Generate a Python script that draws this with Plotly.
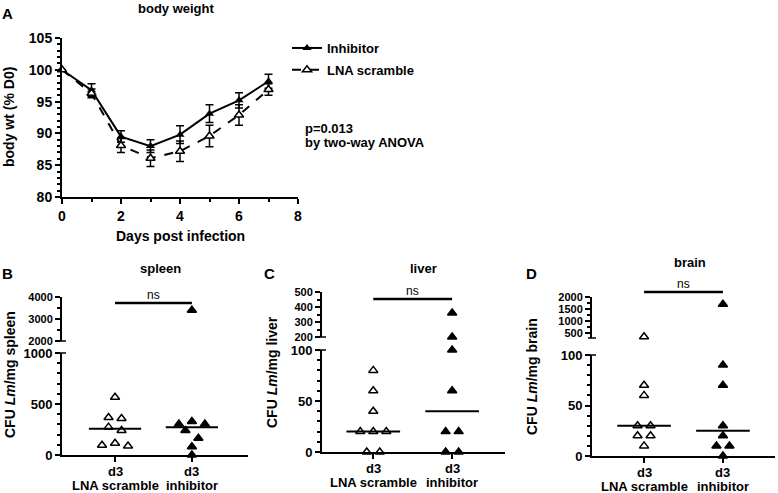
import numpy as np
import plotly.graph_objects as go

# ---------------- data ----------------
days = [0, 1, 2, 3, 4, 5, 6, 7]
inhibitor_mean = [100, 96.8, 89.5, 88.0, 89.8, 93.1, 95.2, 98.2]
inhibitor_sem = [None, 1.0, 0.9, 1.0, 1.4, 1.4, 1.2, 1.1]
lna_mean = [100, 96.3, 88.1, 86.1, 87.2, 89.6, 92.9, 96.9]
lna_sem = [None, 0.7, 1.1, 1.3, 1.6, 1.7, 1.6, 0.9]

groups = ["LNA scramble", "inhibitor"]
spleen_lna = [566, 368, 358, 273, 240, 115, 95, 89]
spleen_inh = [3400, 329, 303, 303, 240, 164, 82, 0]
liver_lna = [80, 60, 40, 20, 20, 20, 0, 0]
liver_inh = [360, 200, 100, 60, 20, 20, 0, 0]
brain_lna = [350, 70, 60, 30, 30, 20, 20, 10]
brain_inh = [1700, 90, 70, 30, 20, 10, 10, 0]

# ---------------- helpers ----------------
W, H = 778, 493
FONT = "Liberation Sans, Arial, Helvetica, sans-serif"


def px(x):
    return x / W


def py(y):
    return 1 - y / H


def axis(r, dtick, mdtick, size=13, **kw):
    vals = np.arange(np.ceil(r[0] / dtick) * dtick, r[1] + dtick * 0.001, dtick)
    d = dict(showline=True, linecolor="black", linewidth=2, ticks="outside",
             tickwidth=1.5, ticklen=5, tickcolor="black", showgrid=False,
             zeroline=False, fixedrange=True, automargin=False, range=list(r),
             tickvals=list(vals), ticktext=[f"<b>{v:g}</b>" for v in vals],
             tickfont=dict(family=FONT, size=size, color="black", weight="bold"))
    if mdtick:
        d["minor"] = dict(dtick=mdtick, tick0=0, ticks="outside", ticklen=3,
                          tickwidth=1.5, tickcolor="black")
    d.update(kw)
    return d


fig = go.Figure()
layout = {}
annotations = []
shapes = []

# ---------------- panel A ----------------
fig.add_trace(go.Scatter(
    x=days, y=inhibitor_mean, name="Inhibitor", mode="lines+markers",
    line=dict(color="black", width=2),
    marker=dict(symbol="triangle-up", size=8, color="black"),
    error_y=dict(type="data", array=inhibitor_sem, color="black", thickness=1.5, width=4),
    legendgroup="a", cliponaxis=False, xaxis="x", yaxis="y"))
fig.add_trace(go.Scatter(
    x=days, y=lna_mean, name="LNA scramble", mode="lines+markers",
    line=dict(color="black", width=2, dash="dash"),
    marker=dict(symbol="triangle-up", size=8, color="white", line=dict(color="black", width=1.5)),
    error_y=dict(type="data", array=lna_sem, color="black", thickness=1.5, width=4),
    legendgroup="b", cliponaxis=False, xaxis="x", yaxis="y"))

layout["xaxis"] = axis((0, 8), 2, 1, size=14, domain=[px(62), px(298)], anchor="y")
layout["yaxis"] = axis((80, 105), 5, 1, size=14, domain=[py(197), py(38)], anchor="x")


def ann(x, y, text, size=13, bold=True, angle=0, xanchor="center", ref=("paper", "paper")):
    annotations.append(dict(
        x=x, y=y, xref=ref[0], yref=ref[1],
        text=f"<b>{text}</b>" if bold else text, showarrow=False,
        xanchor=xanchor, yanchor="middle", textangle=angle,
        font=dict(family=FONT, size=size, color="black")))


ann(px(8), py(14), "A", size=15)
ann(px(176), py(8), "body weight", size=13)
ann(px(9), py(117), "body wt (% D0)", size=14, angle=-90)
ann(px(180), py(236), "Days post infection", size=14)
ann(px(303), py(128), "p=0.013", size=13, xanchor="left")
ann(px(303), py(142), "by two-way ANOVA", size=13, xanchor="left")

# ---------------- panels B-D ----------------
PANELS = [
    dict(title="spleen", letter="B", data=(spleen_lna, spleen_inh),
         xa=2, ylo=2, yhi=3, xpx=(62, 248), xr=(-0.69, 1.73),
         lopx=(455, 353), lor=(0, 1000), lodt=500, lomin=100,
         hipx=(341, 297), hir=(2000, 4000), hidt=1000, himin=500, hisize=11,
         letter_pos=(8, 273), title_pos=(160, 268), ns_y=303, ytitle_pos=(10, 375)),
    dict(title="liver", letter="C", data=(liver_lna, liver_inh),
         xa=3, ylo=4, yhi=5, xpx=(322, 505), xr=(-0.65, 1.67),
         lopx=(452, 350), lor=(0, 100), lodt=50, lomin=10,
         hipx=(337, 292), hir=(200, 500), hidt=100, himin=50, hisize=11,
         letter_pos=(269, 273), title_pos=(423, 268), ns_y=299, ytitle_pos=(272, 372)),
    dict(title="brain", letter="D", data=(brain_lna, brain_inh),
         xa=4, ylo=6, yhi=7, xpx=(592, 775), xr=(-0.66, 1.66),
         lopx=(456, 355), lor=(0, 100), lodt=50, lomin=10,
         hipx=(338, 297), hir=(300, 2000), hidt=500, himin=250, hisize=11,
         letter_pos=(531, 273), title_pos=(690, 262), ns_y=292, ytitle_pos=(532, 377)),
]

STEP_PX = 13.0
CLUSTER_PX = 8.0


def val_to_px(v, p):
    if v <= p["lor"][1]:
        (b, t), (r0, r1) = p["lopx"], p["lor"]
    else:
        (b, t), (r0, r1) = p["hipx"], p["hir"]
    return b - (v - r0) / (r1 - r0) * (b - t)


def swarm_offsets(values, p):
    px_per_unit = (p["xpx"][1] - p["xpx"][0]) / (p["xr"][1] - p["xr"][0])
    step = STEP_PX / px_per_unit
    order = sorted(range(len(values)), key=lambda i: -values[i])
    clusters = []
    for i in order:
        ypx = val_to_px(values[i], p)
        if clusters and abs(ypx - clusters[-1][0]) <= CLUSTER_PX:
            clusters[-1][1].append(i)
        else:
            clusters.append((ypx, [i]))
    offs = [0.0] * len(values)
    for _, idx in clusters:
        n = len(idx)
        if n % 2:
            pattern = [0]
            for k in range(1, n):
                pattern.append(-((k + 1) // 2) if k % 2 else (k // 2))
        else:
            pattern = []
            for k in range(n):
                m = k // 2 + 0.5
                pattern.append(-m if k % 2 == 0 else m)
        for j, i in enumerate(idx):
            offs[i] = pattern[j] * step
    return offs


for p in PANELS:
    xa, ylo, yhi = f"x{p['xa']}", f"y{p['ylo']}", f"y{p['yhi']}"
    layout[f"xaxis{p['xa']}"] = dict(
        showline=True, linecolor="black", linewidth=2, ticks="outside",
        tickwidth=1.5, ticklen=5, tickcolor="black", showgrid=False,
        zeroline=False, fixedrange=True, automargin=False,
        domain=[px(p["xpx"][0]), px(p["xpx"][1])], range=list(p["xr"]),
        tickvals=[0, 1], showticklabels=False, anchor=ylo)
    layout[f"yaxis{p['ylo']}"] = axis(p["lor"], p["lodt"], p["lomin"],
                                      domain=[py(p["lopx"][0]), py(p["lopx"][1])], anchor=xa)
    layout[f"yaxis{p['yhi']}"] = axis(p["hir"], p["hidt"], p["himin"], size=p["hisize"],
                                      domain=[py(p["hipx"][0]), py(p["hipx"][1])], anchor=xa)

    for gi, vals in enumerate(p["data"]):
        offs = swarm_offsets(vals, p)
        filled = gi == 1
        mk = dict(symbol="triangle-up", size=8,
                  color="black" if filled else "white",
                  line=dict(color="black", width=1.5))
        lo = [(gi + o, v) for o, v in zip(offs, vals) if v <= p["lor"][1]]
        hi = [(gi + o, v) for o, v in zip(offs, vals) if v > p["lor"][1]]
        for pts, ya in ((lo, ylo), (hi, yhi)):
            if pts:
                fig.add_trace(go.Scatter(
                    x=[a for a, _ in pts], y=[b for _, b in pts], mode="markers",
                    marker=mk, showlegend=False, cliponaxis=False,
                    xaxis=xa, yaxis=ya))
        med = float(np.median(vals))
        hw = 0.34
        fig.add_trace(go.Scatter(
            x=[gi - hw, gi + hw], y=[med, med], mode="lines",
            line=dict(color="black", width=2), showlegend=False,
            cliponaxis=False, xaxis=xa, yaxis=ylo))

    # category labels
    ax_y = p["lopx"][0]
    for gi, g in enumerate(groups):
        ann(gi, py(ax_y + 16), "d3", size=13, ref=(xa, "paper"))
        ann(gi, py(ax_y + 30), g, size=13, ref=(xa, "paper"))

    # significance bracket
    shapes.append(dict(type="line", xref=xa, yref="paper", x0=0, x1=1,
                       y0=py(p["ns_y"]), y1=py(p["ns_y"]),
                       line=dict(color="black", width=2.5)))
    ann(0.5, py(p["ns_y"] - 8), "ns", size=12, bold=False, ref=(xa, "paper"))

    # break caps
    axx = p["xpx"][0]
    for yy in (p["hipx"][0], p["lopx"][1]):
        shapes.append(dict(type="line", xref="paper", yref="paper",
                           x0=px(axx - 4), x1=px(axx + 4), y0=py(yy), y1=py(yy),
                           line=dict(color="black", width=1.5)))

    ann(px(p["letter_pos"][0]), py(p["letter_pos"][1]), p["letter"], size=15)
    ann(px(p["title_pos"][0]), py(p["title_pos"][1]), p["title"], size=13)
    ann(px(p["ytitle_pos"][0]), py(p["ytitle_pos"][1]),
        f"CFU <i>Lm</i>/mg {p['title']}", size=14, angle=-90)

fig.update_layout(
    template="none",
    width=W, height=H, autosize=False,
    margin=dict(l=0, r=0, t=0, b=0, pad=0),
    paper_bgcolor="white", plot_bgcolor="white",
    font=dict(family=FONT, color="black"),
    showlegend=True,
    legend=dict(x=px(287), y=py(33), xanchor="left", yanchor="top",
                bgcolor="rgba(0,0,0,0)", tracegroupgap=2, itemwidth=30,
                font=dict(family=FONT, size=13, color="black", weight="bold")),
    annotations=annotations, shapes=shapes,
    **layout)

fig.write_html("out.html", config={"displayModeBar": False},
               post_script="document.body.style.margin='0';")
